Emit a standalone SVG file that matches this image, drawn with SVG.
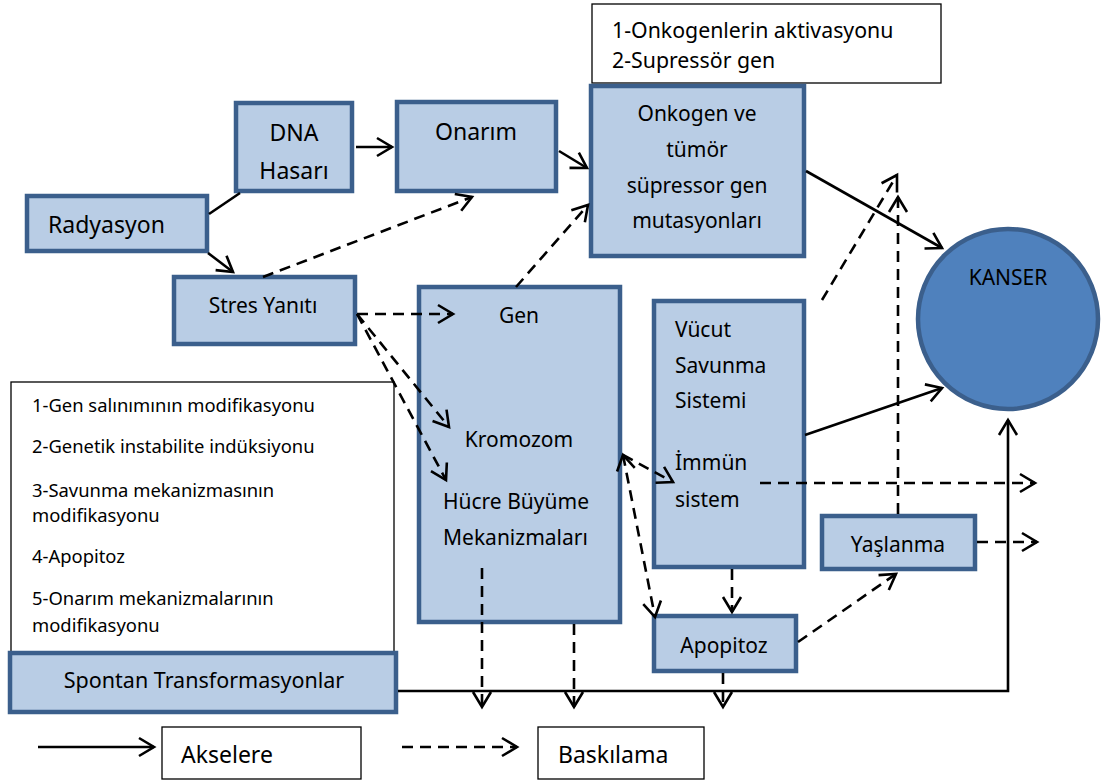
<svg xmlns="http://www.w3.org/2000/svg" width="1106" height="784" viewBox="0 0 1106 784">
<style>
.n{fill:#b9cde5;stroke:#3b5f8c;stroke-width:4.5}
.note{fill:#fff;stroke:#000;stroke-width:1.3}
.t{font-family:"Noto Sans","Open Sans","DejaVu Sans",sans-serif;fill:#000}
.s{fill:none;stroke:#000;stroke-width:2.6}
.d{fill:none;stroke:#000;stroke-width:2.6;stroke-dasharray:11 7}
.c{text-anchor:middle}
</style>
<defs>
<marker id="ah" markerWidth="20" markerHeight="22" refX="15" refY="9" orient="auto" markerUnits="userSpaceOnUse" overflow="visible">
<path d="M0,0 L15,9 L0,18" fill="none" stroke="#000" stroke-width="2.6" stroke-dasharray="none"/>
</marker>
<marker id="ah2" markerWidth="20" markerHeight="22" refX="15" refY="9" orient="auto-start-reverse" markerUnits="userSpaceOnUse" overflow="visible">
<path d="M0,0 L15,9 L0,18" fill="none" stroke="#000" stroke-width="2.6" stroke-dasharray="none"/>
</marker>
</defs>
<rect width="1106" height="784" fill="#fff"/>

<g id="note-top">
<rect class="note" x="592" y="4" width="349" height="79"/>
<text class="t" x="612" y="38" font-size="21.3">1-Onkogenlerin aktivasyonu</text>
<text class="t" x="612" y="68" font-size="21.3">2-Supressör gen</text>
</g>

<g id="radyasyon">
<rect class="n" x="27" y="196" width="180" height="55"/>
<text class="t" x="48" y="233" font-size="23">Radyasyon</text>
</g>

<g id="dna">
<rect class="n" x="236" y="103" width="116" height="88"/>
<text class="t c" x="294" y="141" font-size="23">DNA</text>
<text class="t c" x="294" y="179" font-size="23">Hasarı</text>
</g>

<g id="onarim">
<rect class="n" x="397" y="102" width="159" height="89"/>
<text class="t c" x="476" y="140" font-size="23">Onarım</text>
</g>

<g id="onkogen">
<rect class="n" x="591" y="86" width="213" height="170"/>
<text class="t c" x="697" y="121" font-size="21">Onkogen ve</text>
<text class="t c" x="697" y="157" font-size="21">tümör</text>
<text class="t c" x="697" y="193" font-size="21">süpressor gen</text>
<text class="t c" x="697" y="228" font-size="21">mutasyonları</text>
</g>

<g id="stres">
<rect class="n" x="174" y="277" width="181" height="67"/>
<text class="t c" x="263" y="313" font-size="21">Stres Yanıtı</text>
</g>

<g id="gen">
<rect class="n" x="419" y="287" width="201" height="335"/>
<text class="t c" x="519" y="323" font-size="21">Gen</text>
<text class="t c" x="519" y="447" font-size="21">Kromozom</text>
<text class="t" x="443" y="509" font-size="21">Hücre Büyüme</text>
<text class="t" x="443" y="545" font-size="21">Mekanizmaları</text>
</g>

<g id="vucut">
<rect class="n" x="654" y="301" width="150" height="266"/>
<text class="t" x="675" y="337" font-size="21">Vücut</text>
<text class="t" x="675" y="373" font-size="21">Savunma</text>
<text class="t" x="675" y="408" font-size="21">Sistemi</text>
<text class="t" x="675" y="470" font-size="21">İmmün</text>
<text class="t" x="675" y="507" font-size="21">sistem</text>
</g>

<g id="apopitoz">
<rect class="n" x="654" y="616" width="142" height="55"/>
<text class="t c" x="724" y="653" font-size="21">Apopitoz</text>
</g>

<g id="yaslanma">
<rect class="n" x="822" y="516" width="153" height="53"/>
<text class="t c" x="898" y="552" font-size="21">Yaşlanma</text>
</g>

<g id="kanser">
<circle cx="1008" cy="319" r="90" fill="#4f81bd" stroke="#3b5f8c" stroke-width="4.5"/>
<text class="t c" x="1008" y="285" font-size="21">KANSER</text>
</g>

<g id="note-left">
<rect class="note" x="11" y="382" width="383" height="271"/>
<text class="t" x="32" y="412" font-size="18.4">1-Gen salınımının modifikasyonu</text>
<text class="t" x="32" y="453" font-size="18.4">2-Genetik instabilite indüksiyonu</text>
<text class="t" x="32" y="497" font-size="18.4">3-Savunma mekanizmasının</text>
<text class="t" x="32" y="522" font-size="18.4">modifikasyonu</text>
<text class="t" x="32" y="563" font-size="18.4">4-Apopitoz</text>
<text class="t" x="32" y="605" font-size="18.4">5-Onarım mekanizmalarının</text>
<text class="t" x="32" y="632" font-size="18.4">modifikasyonu</text>
</g>

<g id="spontan">
<rect class="n" x="10" y="653" width="386" height="59"/>
<text class="t c" x="204" y="688" font-size="21.5">Spontan Transformasyonlar</text>
</g>

<g id="connectors">
<line class="s" x1="209" y1="214" x2="240" y2="193"/>
<line class="s" x1="208" y1="253" x2="233" y2="272" marker-end="url(#ah)"/>
<line class="s" x1="356" y1="147" x2="392" y2="147" marker-end="url(#ah)"/>
<line class="s" x1="559" y1="151" x2="587" y2="168" marker-end="url(#ah)"/>
<line class="d" x1="263" y1="277" x2="472" y2="197" marker-end="url(#ah)"/>
<line class="d" x1="516" y1="287" x2="588" y2="205" marker-end="url(#ah)"/>
<line class="s" x1="806" y1="171" x2="942" y2="248" marker-end="url(#ah)"/>
<line class="s" x1="805" y1="435" x2="942" y2="388" marker-end="url(#ah)"/>
<line class="d" x1="822" y1="300" x2="897" y2="175" marker-end="url(#ah)"/>
<line class="d" x1="898" y1="514" x2="898" y2="197" marker-end="url(#ah)"/>
<line class="d" x1="760" y1="483" x2="1035" y2="483" marker-end="url(#ah)"/>
<line class="d" x1="977" y1="542" x2="1037" y2="542" marker-end="url(#ah)"/>
<polyline class="s" points="398,691 1008,691 1008,420" marker-end="url(#ah)"/>
<line class="d" x1="357" y1="314" x2="453" y2="314" marker-end="url(#ah)"/>
<line class="d" x1="357" y1="314" x2="449" y2="427" marker-end="url(#ah)"/>
<line class="d" x1="357" y1="314" x2="446" y2="480" marker-end="url(#ah)"/>
<line class="d" x1="623" y1="455" x2="655" y2="617" marker-start="url(#ah2)" marker-end="url(#ah2)"/>
<line class="d" x1="623" y1="455" x2="673" y2="482" marker-end="url(#ah)"/>
<line class="d" x1="732" y1="569" x2="732" y2="612" marker-end="url(#ah)"/>
<line class="d" x1="798" y1="642" x2="896" y2="574" marker-end="url(#ah)"/>
<line class="d" x1="482" y1="568" x2="482" y2="707" marker-end="url(#ah)"/>
<line class="d" x1="574" y1="624" x2="574" y2="707" marker-end="url(#ah)"/>
<line class="d" x1="723" y1="673" x2="723" y2="707" marker-end="url(#ah)"/>
</g>

<g id="legend">
<line class="s" x1="38" y1="747" x2="154" y2="747" marker-end="url(#ah)"/>
<rect class="note" x="162" y="727" width="199" height="52"/>
<text class="t" x="181" y="763" font-size="23">Akselere</text>
<line class="d" x1="402" y1="747" x2="517" y2="747" marker-end="url(#ah)"/>
<rect class="note" x="538" y="727" width="166" height="52"/>
<text class="t" x="558" y="763" font-size="23">Baskılama</text>
</g>
</svg>
